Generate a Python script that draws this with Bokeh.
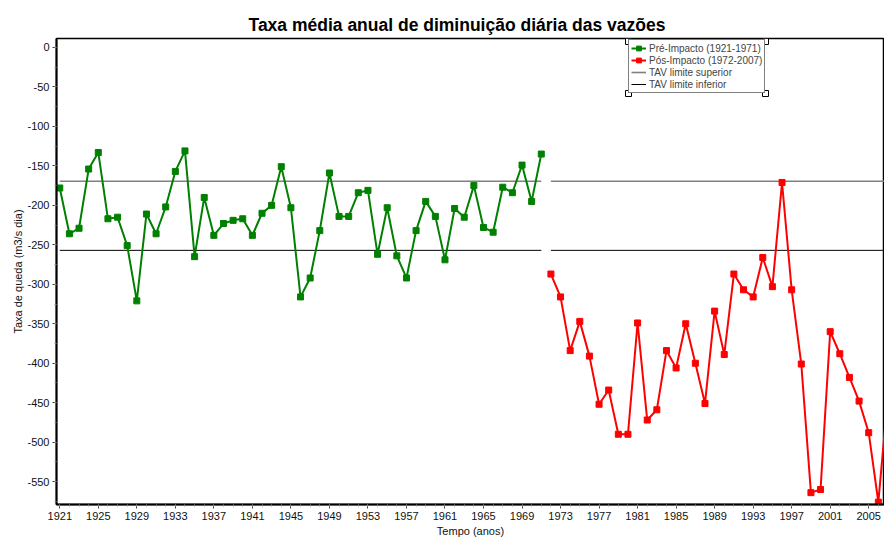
from bokeh.plotting import figure
from bokeh.models import FixedTicker, Legend, LegendItem, Range1d, BoxAnnotation
from bokeh.embed import file_html
from bokeh.resources import INLINE

# ---- data ----
years_pre = list(range(1921, 1972))
vals_pre = [-178, -236, -229, -154, -133, -217, -215, -251, -321, -211,
            -236, -202, -157, -131, -265, -190, -238, -223, -219, -217,
            -238, -210, -200, -151, -203, -316, -292, -232, -159, -214,
            -214, -184, -181, -262, -203, -264, -292, -232, -195, -214,
            -269, -204, -215, -175, -228, -234, -177, -184, -149, -195,
            -135]
years_post = list(range(1972, 2008))
vals_post = [-287, -316, -384, -347, -391, -452, -434, -490, -490, -349,
             -472, -459, -384, -406, -350, -400, -451, -334, -389, -287,
             -307, -316, -266, -303, -171, -307, -401, -564, -560, -360,
             -388, -418, -448, -488, -576, -440]
tav_upper = -169.5
tav_lower = -257.0
x_ticks = list(range(1921, 2006, 4))
y_ticks = list(range(0, -551, -50))

FONT = "Liberation Sans"

p = figure(width=884, height=539, output_backend="svg", toolbar_location=None,
           x_range=Range1d(1920.66, 2006.64), y_range=Range1d(-579, 11.4),
           min_border_left=56, min_border_right=0, min_border_top=38,
           min_border_bottom=33)
p.title.text = "Taxa média anual de diminuição diária das vazões"
p.title.text_font = FONT
p.title.text_font_size = "17.5px"
p.title.text_font_style = "bold"
p.title.text_color = "black"
p.title.align = "left"
p.title.offset = 192
p.title.standoff = 8

p.xgrid.visible = False
p.ygrid.visible = False
p.outline_line_color = "black"
p.outline_line_width = 1.5

for ax in (p.xaxis[0], p.yaxis[0]):
    ax.axis_line_width = 2
    ax.axis_line_color = "black"
    ax.major_label_text_font = FONT
    ax.major_label_text_font_size = "11px"
    ax.major_label_text_color = "#111111"
    ax.axis_label_text_font = FONT
    ax.axis_label_text_font_size = "11px"
    ax.axis_label_text_font_style = "normal"
    ax.axis_label_text_color = "#111111"
    ax.major_tick_out = 4
    ax.major_tick_in = 0
    ax.minor_tick_out = 2
    ax.minor_tick_in = 0
    ax.major_tick_line_color = "#444444"
    ax.minor_tick_line_color = "#888888"

p.xaxis.ticker = FixedTicker(ticks=x_ticks, minor_ticks=list(range(1921, 2007)))
p.yaxis.ticker = FixedTicker(ticks=y_ticks, minor_ticks=list(range(0, -580, -25)))
p.yaxis.major_label_overrides = {t: str(t) for t in y_ticks}
p.xaxis.axis_label = "Tempo (anos)"
p.yaxis.axis_label = "Taxa de queda (m3/s dia)"
p.xaxis.major_label_standoff = 3
p.xaxis.axis_label_standoff = 2
p.yaxis.major_label_standoff = 3
p.yaxis.axis_label_standoff = 0

# threshold lines, one segment per period
up1 = p.line([years_pre[0], years_pre[-1]], [tav_upper, tav_upper], line_color="#808080", line_width=1.6)
p.line([years_post[0], years_post[-1]], [tav_upper, tav_upper], line_color="#808080", line_width=1.6)
lo1 = p.line([years_pre[0], years_pre[-1]], [tav_lower, tav_lower], line_color="#000000", line_width=1)
p.line([years_post[0], years_post[-1]], [tav_lower, tav_lower], line_color="#000000", line_width=1)

gl = p.line(years_pre, vals_pre, line_color="#008000", line_width=2)
gs = p.scatter(years_pre, vals_pre, marker="square", size=6, fill_color="#008000", line_color="#008000")
rl = p.line(years_post, vals_post, line_color="#FF0000", line_width=2)
rs = p.scatter(years_post, vals_post, marker="square", size=6, fill_color="#FF0000", line_color="#FF0000")

legend = Legend(items=[
    LegendItem(label="Pré-Impacto (1921-1971)", renderers=[gl, gs]),
    LegendItem(label="Pós-Impacto (1972-2007)", renderers=[rl, rs]),
    LegendItem(label="TAV limite superior", renderers=[up1]),
    LegendItem(label="TAV limite inferior", renderers=[lo1]),
], location=(572, 411))
legend.label_text_font = FONT
legend.label_text_font_size = "10px"
legend.label_height = 12
legend.glyph_height = 12
legend.glyph_width = 15
legend.spacing = 0
legend.padding = 2
legend.margin = 0
legend.label_standoff = 3
legend.border_line_color = "black"
legend.border_line_width = 1
legend.background_fill_alpha = 1
p.add_layout(legend, "center")

# selection handles at the legend box corners (frame-relative screen pixels, y up)
for cx, cy in [(572, 411), (709, 411), (572, 463), (709, 463)]:
    p.add_layout(BoxAnnotation(left=cx - 3, right=cx + 3, bottom=cy - 3, top=cy + 3,
                               left_units="screen", right_units="screen",
                               top_units="screen", bottom_units="screen",
                               fill_color="white", fill_alpha=1,
                               line_color="black", line_width=1, line_alpha=1))

open("out.html", "w").write(file_html(p, INLINE))
